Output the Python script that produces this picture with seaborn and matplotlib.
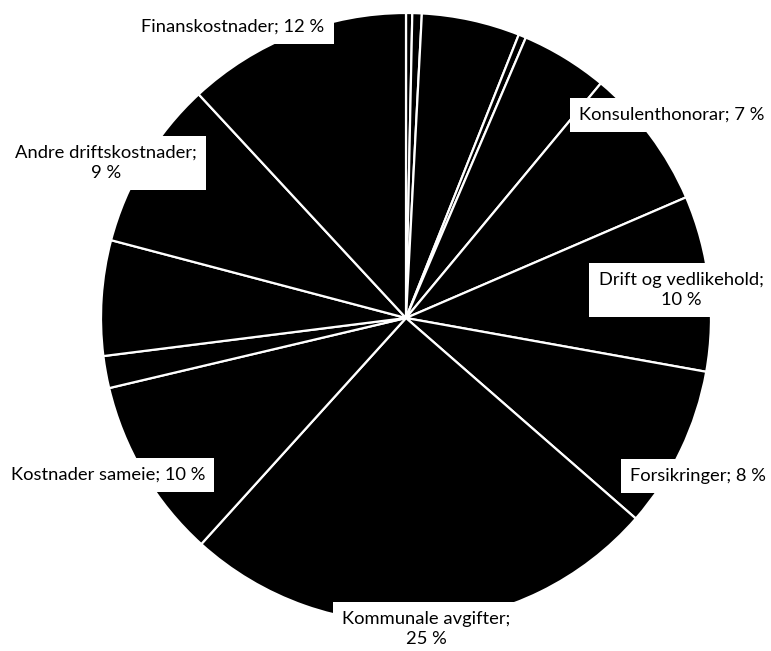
import matplotlib
matplotlib.use("Agg")
import matplotlib.pyplot as plt
import seaborn as sns

# ---- data (percent of total, clockwise from 12 o'clock) ----
categories = [
    "Post A", "Post B", "Post C", "Post D", "Post E",
    "Konsulenthonorar", "Drift og vedlikehold", "Forsikringer",
    "Kommunale avgifter", "Kostnader sameie", "Post F", "Post G",
    "Andre driftskostnader", "Finanskostnader",
]
values = [0.33, 0.5, 5.2, 0.4, 4.6, 7.5, 9.3, 8.6, 25.3, 9.6, 1.7, 6.1, 9.0, 11.9]
label_texts = {
    "Finanskostnader": "Finanskostnader; 12 %",
    "Andre driftskostnader": "Andre driftskostnader;\n9 %",
    "Konsulenthonorar": "Konsulenthonorar; 7 %",
    "Drift og vedlikehold": "Drift og vedlikehold;\n10 %",
    "Forsikringer": "Forsikringer; 8 %",
    "Kommunale avgifter": "Kommunale avgifter;\n25 %",
    "Kostnader sameie": "Kostnader sameie; 10 %",
}

# ---- layout (pixel positions of label centres in a 771x651 canvas) ----
label_pos = {
    "Finanskostnader": (233, 27),
    "Andre driftskostnader": (106, 163),
    "Konsulenthonorar": (672, 115),
    "Drift og vedlikehold": (681, 290),
    "Forsikringer": (698, 476),
    "Kommunale avgifter": (426, 629),
    "Kostnader sameie": (108, 475),
}

sns.set_theme(style="white")
plt.rcParams["font.family"] = ["Lato", "DejaVu Sans"]

W, H, DPI = 771, 651, 100
fig = plt.figure(figsize=(W / DPI, H / DPI), dpi=DPI)
fig.patch.set_facecolor("white")

cx, cy, r = 406, 318, 305
ax = fig.add_axes([(cx - r) / W, (H - cy - r) / H, 2 * r / W, 2 * r / H])
ax.pie(
    values,
    colors=["#000000"] * len(values),
    startangle=90,
    counterclock=False,
    wedgeprops=dict(edgecolor="white", linewidth=1.6),
    radius=1.0,
)
ax.set_xlim(-1, 1)
ax.set_ylim(-1, 1)
ax.set_aspect("equal")
ax.axis("off")

for name, txt in label_texts.items():
    px, py = label_pos[name]
    fig.text(
        px / W, 1 - py / H, txt,
        ha="center", va="center", multialignment="center",
        fontsize=13.2, color="black", linespacing=1.3,
        bbox=dict(boxstyle="square,pad=0.5", facecolor="white", edgecolor="none"),
    )

fig.savefig("out.png", dpi=DPI, facecolor="white")
